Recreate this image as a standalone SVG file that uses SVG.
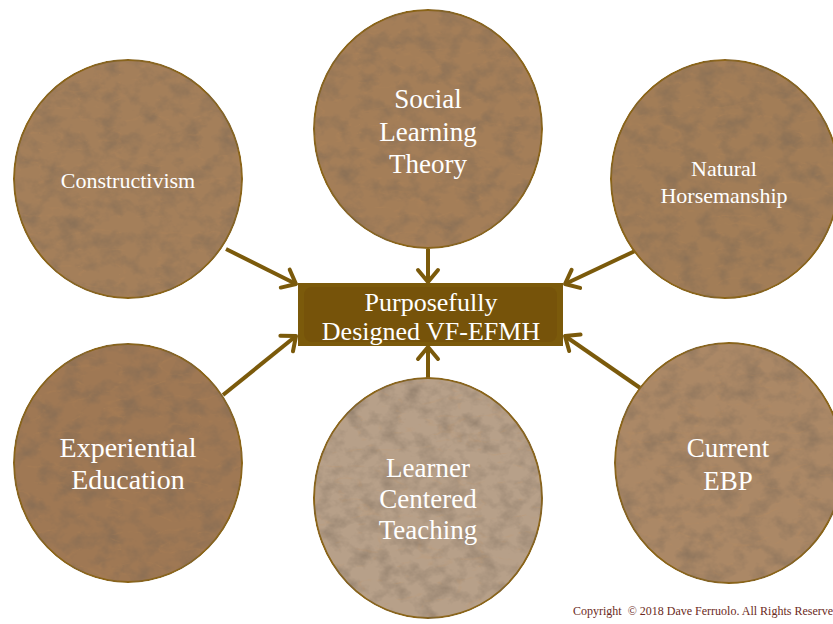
<svg xmlns="http://www.w3.org/2000/svg" width="833" height="624" viewBox="0 0 833 624">
  <defs>
    <style>
      .disc { stroke: #8a6418; stroke-width: 2; filter: url(#leather); }
      .label { font-family: "Liberation Serif", "Times New Roman", serif; fill: #ffffff; text-anchor: middle; }
      .link { stroke: #7b5a0b; stroke-width: 4; fill: none; marker-end: url(#chevron); }
      .copy { font-family: "Liberation Serif", "Times New Roman", serif; font-size: 12px; fill: #6b2a22; white-space: pre; }
    </style>
    <!-- mottled leather surface for the round nodes -->
    <filter id="leather" x="-2%" y="-2%" width="104%" height="104%" color-interpolation-filters="sRGB">
      <feTurbulence type="fractalNoise" baseFrequency="0.05 0.06" numOctaves="4" seed="7" result="mottle"/>
      <feColorMatrix in="mottle" type="matrix" result="darkSpots"
        values="0 0 0 0 0.45  0 0 0 0 0.39  0 0 0 0 0.33  1.0 0 0 0 -0.42"/>
      <feTurbulence type="turbulence" baseFrequency="0.025 0.06" numOctaves="3" seed="11" result="grain"/>
      <feColorMatrix in="grain" type="matrix" result="streaks"
        values="0 0 0 0 0.78  0 0 0 0 0.56  0 0 0 0 0.34  0 0 -1.0 0 0.15"/>
      <feMerge result="tex">
        <feMergeNode in="SourceGraphic"/>
        <feMergeNode in="darkSpots"/>
        <feMergeNode in="streaks"/>
      </feMerge>
      <feComposite in="tex" in2="SourceGraphic" operator="in"/>
    </filter>
    <!-- open chevron arrowhead -->
    <marker id="chevron" markerUnits="userSpaceOnUse" viewBox="-16 -14 20 28" refX="0" refY="0"
            markerWidth="20" markerHeight="28" orient="auto">
      <path d="M -12 -10 L 0 0 L -12 10" fill="none" stroke="#7b5a0b" stroke-width="4"
            stroke-linecap="round" stroke-linejoin="round"/>
    </marker>
  </defs>

  <rect width="833" height="624" fill="#ffffff"/>

  <!-- connectors -->
  <g id="connectors">
    <line class="link" x1="226" y1="249" x2="296" y2="284"/>
    <line class="link" x1="428" y1="249" x2="428" y2="282"/>
    <line class="link" x1="635" y1="251" x2="565" y2="284"/>
    <line class="link" x1="223" y1="395" x2="296" y2="336"/>
    <line class="link" x1="428" y1="378" x2="428" y2="347"/>
    <line class="link" x1="646" y1="392" x2="565" y2="336"/>
  </g>

  <g id="constructivism">
    <ellipse class="disc" cx="128" cy="179" rx="114" ry="119" fill="#a47f5a"/>
    <text class="label" x="128" y="188" font-size="22">Constructivism</text>
  </g>

  <g id="social-learning-theory">
    <ellipse class="disc" cx="428" cy="129" rx="114" ry="119" fill="#a47e58"/>
    <text class="label" x="428" y="108" font-size="27">Social</text>
    <text class="label" x="428" y="141" font-size="27">Learning</text>
    <text class="label" x="428" y="173" font-size="27">Theory</text>
  </g>

  <g id="natural-horsemanship">
    <ellipse class="disc" cx="725" cy="179" rx="114" ry="119" fill="#a27d57"/>
    <text class="label" x="724" y="176" font-size="22">Natural</text>
    <text class="label" x="724" y="203" font-size="22">Horsemanship</text>
  </g>

  <g id="experiential-education">
    <ellipse class="disc" cx="128" cy="463" rx="114" ry="119" fill="#9f7854"/>
    <text class="label" x="128" y="457" font-size="28">Experiential</text>
    <text class="label" x="128" y="489" font-size="28">Education</text>
  </g>

  <g id="learner-centered-teaching">
    <ellipse class="disc" cx="428" cy="498" rx="114" ry="120" fill="#b7a089"/>
    <text class="label" x="428" y="477" font-size="27">Learner</text>
    <text class="label" x="428" y="508" font-size="27">Centered</text>
    <text class="label" x="428" y="539" font-size="27">Teaching</text>
  </g>

  <g id="current-ebp">
    <ellipse class="disc" cx="729" cy="463" rx="114" ry="120" fill="#ab8866"/>
    <text class="label" x="728" y="457" font-size="27">Current</text>
    <text class="label" x="728" y="490" font-size="27">EBP</text>
  </g>

  <g id="purposefully-designed">
    <rect x="298" y="283" width="265" height="63" fill="#7b5a0b"/>
    <rect x="304" y="287" width="253" height="55" rx="8" fill="#76530a"/>
    <text class="label" x="431" y="311" font-size="26">Purposefully</text>
    <text class="label" x="431" y="340" font-size="26">Designed VF-EFMH</text>
  </g>

  <text class="copy" x="573" y="615">Copyright  © 2018 Dave Ferruolo. All Rights Reserve</text>
</svg>
